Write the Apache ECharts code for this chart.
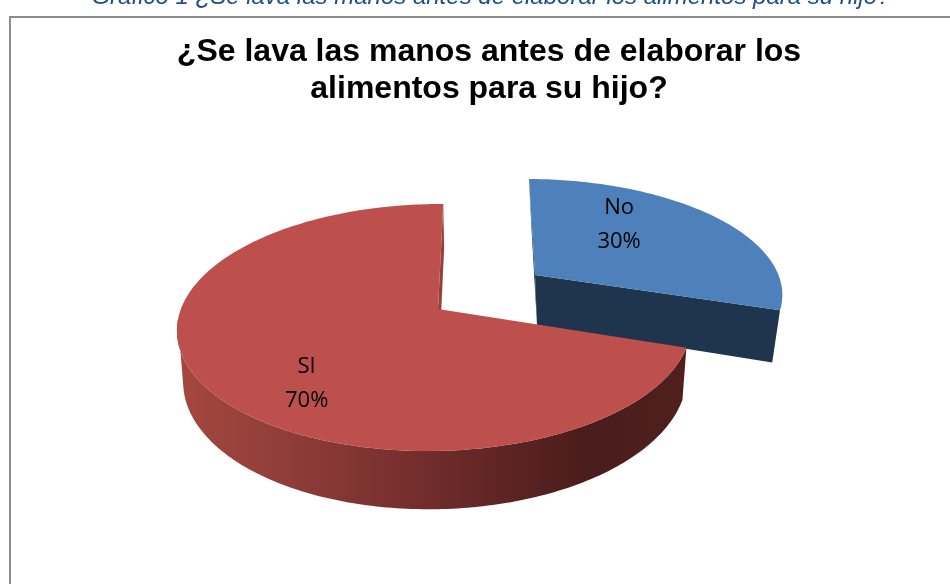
<!DOCTYPE html>
<html>
<head>
<meta charset="utf-8">
<style>html,body{margin:0;padding:0;background:#fff}#chart{width:950px;height:584px}</style>
<script src="https://cdn.jsdelivr.net/npm/echarts@6/dist/echarts.min.js"></script>
</head>
<body>
<div id="chart"></div>
<script>
// Survey answers
const categories = ['No', 'SI'];
const percentages = [30, 70];
const captionText = 'Gráfico 1 ¿Se lava las manos antes de elaborar los alimentos para su hijo?';
const titleText = '¿Se lava las manos antes de elaborar los\nalimentos para su hijo?';

// Perspective disc used for the slices of the tilted pie
const disc = { rx: 254, ry: 120.7, depthP: 0.15, sideQ: 0.012 };
const sliceStyles = [
  { ax: 535, ay: 275, sx: 0.97, sy: 0.915, shear: -0.0625, lowScale: 0.96, lowDx: 2, lowDy: 50,
    top: '#4e80bc', side: '#1f344d', wall: '#1f344d', labelAngle: 38, labelR: 0.62 },
  { ax: 438, ay: 309, sx: 1, sy: 1, shear: 0.05, lowScale: 0.98, lowDx: 1, lowDy: 50,
    top: '#bd4f4c', side: null, wall: '#96403c', labelAngle: 219.1, labelR: 0.725 }
];
// Angles where the rim's silhouette leaves the upper and the lower outline
const rimTopEnd = 265;
const rimLowEnd = 258;

const chart = echarts.init(document.getElementById('chart'));
const total = percentages.reduce((a, b) => a + b, 0);

// Projects a polar point of the unit disc to the canvas; lower=true gives the underside
function project(style, deg, radius, lower) {
  const t = deg * Math.PI / 180;
  const u = Math.sin(t) * radius;
  const v = Math.cos(t) * radius;
  const k = 1 / (1 + disc.depthP * v + disc.sideQ * u);
  const dx = disc.rx * u * k * style.sx;
  const dy = -disc.ry * v * k * style.sy;
  let x = style.ax + dx - style.shear * dy;
  let y = style.ay + dy;
  if (lower) {
    x = style.ax + (x - style.ax) * style.lowScale + style.lowDx;
    y = style.ay + dy * 1.058 + style.lowDy;
  }
  return [x, y];
}

function arc(style, from, to, lower) {
  const pts = [];
  const n = Math.ceil(Math.abs(to - from));
  for (let i = 0; i <= n; i++) pts.push(project(style, from + (to - from) * i / n, 1, lower));
  return pts;
}

function renderSlice(params, api) {
  const i = params.dataIndex;
  const style = sliceStyles[i];
  let startValue = 0;
  for (let j = 0; j < i; j++) startValue += percentages[j];
  const value = api.value(0);
  const a0 = startValue / total * 360;
  const a1 = (startValue + value) / total * 360;
  const apex = project(style, 0, 0, false);
  const apexLow = project(style, 0, 0, true);
  const children = [];
  const poly = (points, fill) => ({ type: 'polygon', shape: { points }, style: { fill } });

  if (i === 0) {
    // Cut walls of the exploded slice: a sliver at the start, the broad face at the end
    children.push(poly([project(style, a0, 1, false), apex, apexLow, project(style, a0, 1, true)], style.wall));
    children.push(poly([apex, project(style, a1, 1, false), project(style, a1, 1, true), apexLow], style.side));
  } else {
    // Cut wall at the closing edge of the large slice, seen past the gap
    children.push(poly([project(style, a1, 1, false), apex, apexLow, project(style, a1, 1, true)], style.wall));
    // Curved rim, shaded from left to right
    const rim = arc(style, a0, rimTopEnd, false).concat(arc(style, rimLowEnd, a0, true));
    children.push(poly(rim, new echarts.graphic.LinearGradient(0, 0, 1, 0, [
      { offset: 0, color: '#a5473f' },
      { offset: 0.22, color: '#8f3d38' },
      { offset: 0.43, color: '#78302e' },
      { offset: 0.63, color: '#5f2524' },
      { offset: 0.81, color: '#4a1c1b' },
      { offset: 1, color: '#4f201e' }
    ])));
  }

  // Upper face
  children.push(poly([apex].concat(arc(style, a0, a1, false)), style.top));

  // Category and share
  const lp = project(style, style.labelAngle, style.labelR, false);
  children.push({
    type: 'text',
    x: lp[0], y: lp[1],
    style: {
      text: categories[i] + '\n' + Math.round(value / total * 100) + '%',
      fill: '#000', font: '22px "Open Sans"', lineHeight: 34,
      align: 'center', verticalAlign: 'middle'
    }
  });
  return { type: 'group', children };
}

chart.setOption({
  animation: false,
  backgroundColor: '#fff',
  title: [
    { text: captionText, left: 486, top: -20, textAlign: 'center',
      textStyle: { fontFamily: 'Liberation Sans', fontStyle: 'italic', fontWeight: 'normal', fontSize: 24, color: '#1f4e8c' } },
    { text: titleText, left: 484, top: 29, textAlign: 'center',
      textStyle: { fontFamily: 'Liberation Sans', fontWeight: 'bold', fontSize: 32, lineHeight: 37, color: '#000' } }
  ],
  graphic: [{
    type: 'rect', silent: true, z: -1,
    shape: { x: 10, y: 17, width: 960, height: 600 },
    style: { fill: '#fff', stroke: '#8c8c8c', lineWidth: 2 }
  }],
  series: [{
    type: 'custom',
    coordinateSystem: 'none',
    silent: true,
    renderItem: renderSlice,
    data: percentages.map(v => [v])
  }]
});
</script>
</body>
</html>
